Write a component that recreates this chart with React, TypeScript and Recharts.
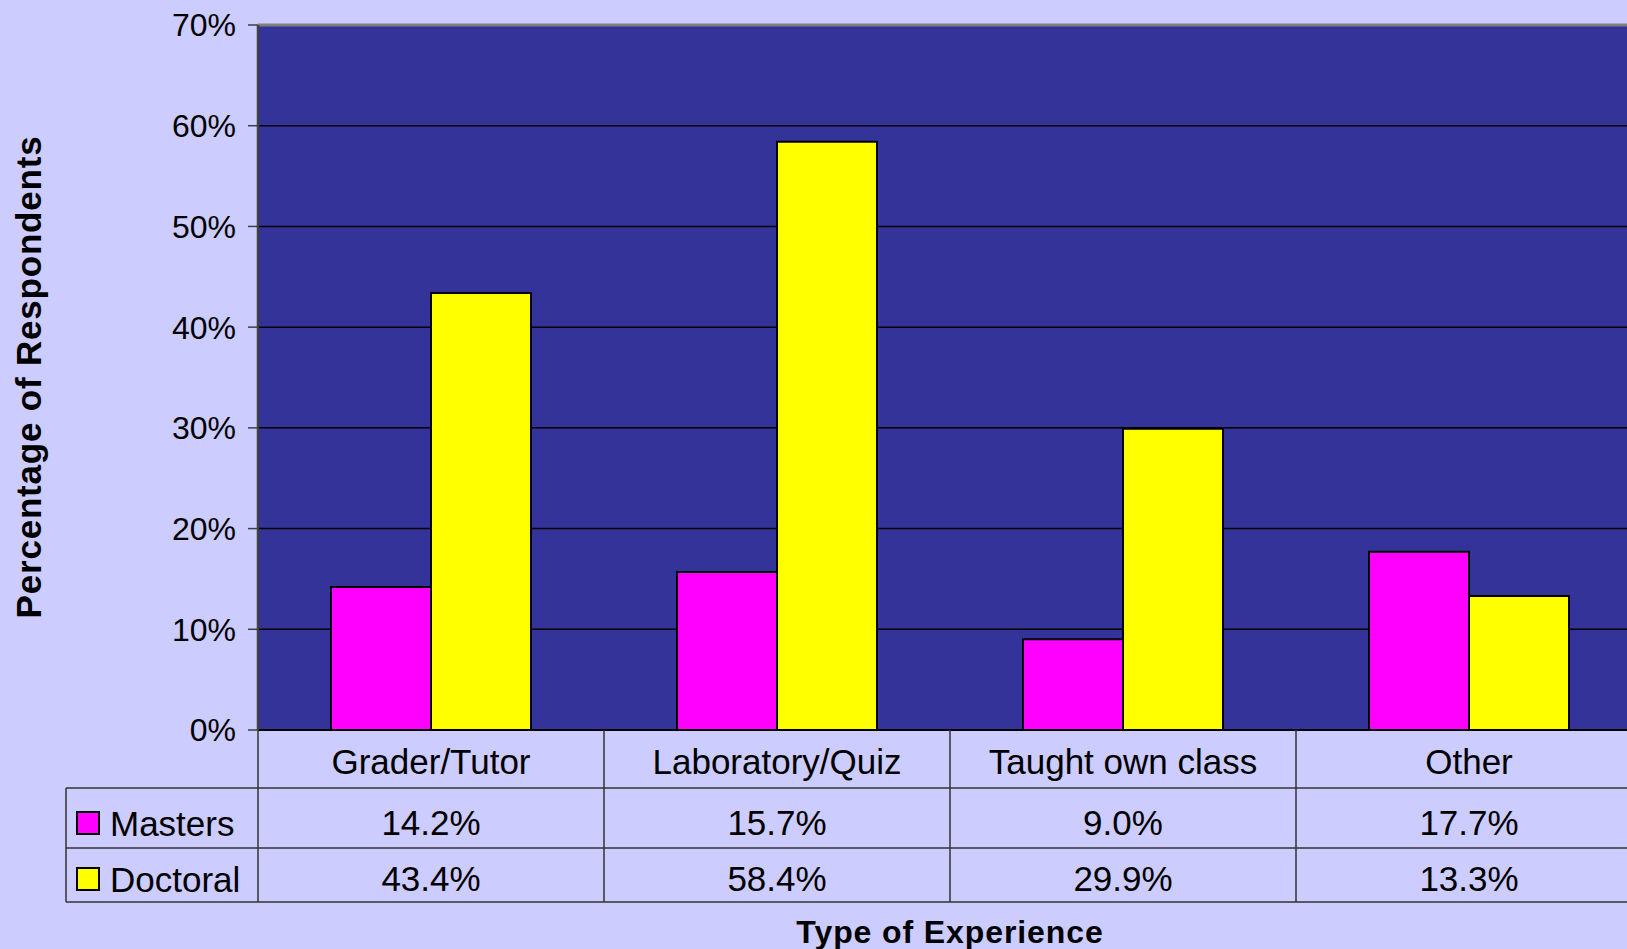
import { Bar, BarChart, CartesianGrid, ReferenceLine, XAxis, YAxis } from "recharts";

const categories = ["Grader/Tutor", "Laboratory/Quiz", "Taught own class", "Other"];
const masters = [14.2, 15.7, 9.0, 17.7];
const doctoral = [43.4, 58.4, 29.9, 13.3];
const yTicks = [0, 10, 20, 30, 40, 50, 60, 70];

const series = [
  { key: "masters", name: "Masters", color: "#FF00FF", values: masters },
  { key: "doctoral", name: "Doctoral", color: "#FFFF00", values: doctoral },
];

const data = categories.map((category, i) => ({ category, masters: masters[i], doctoral: doctoral[i] }));

const font = "'Liberation Sans', Arial, sans-serif";
const W = 1660;
const H = 949;
const plotLeft = 258;
const plotRight = 18;
const colW = (W - plotLeft - plotRight) / categories.length;
const line = "#333333";

function TableTick(props: any) {
  const { x, y, payload, index } = props;
  const i = payload?.index ?? index;
  const left = x - colW / 2;
  const right = x + colW / 2;
  return (
    <g fontFamily={font}>
      {i === 0 && (
        <g>
          <line x1={left} x2={left} y1={y} y2={y + 172} stroke={line} strokeWidth={1.5} />
          <line x1={66} x2={W} y1={y + 58} y2={y + 58} stroke={line} strokeWidth={1.5} />
          <line x1={66} x2={W} y1={y + 118} y2={y + 118} stroke={line} strokeWidth={1.5} />
          <line x1={66} x2={W} y1={y + 172} y2={y + 172} stroke={line} strokeWidth={1.5} />
          <line x1={66} x2={66} y1={y + 58} y2={y + 172} stroke={line} strokeWidth={1.5} />
          {series.map((s, k) => (
            <g key={s.key}>
              <rect x={77} y={y + 82 + k * 56} width={22} height={22} fill={s.color} stroke="#000" strokeWidth={2} />
              <text x={110} y={y + 93 + k * 56} fontSize={35} fill="#000" dominantBaseline="central">{s.name}</text>
            </g>
          ))}
        </g>
      )}
      <line x1={right} x2={right} y1={y} y2={y + 172} stroke={line} strokeWidth={1.5} />
      <text x={x} y={y + 31} fontSize={35} fill="#000" textAnchor="middle" dominantBaseline="central">{payload.value}</text>
      {series.map((s, k) => (
        <text key={s.key} x={x} y={y + 92 + k * 56} fontSize={35} fill="#000" textAnchor="middle" dominantBaseline="central">
          {`${s.values[i].toFixed(1)}%`}
        </text>
      ))}
    </g>
  );
}

export default function App() {
  return (
    <div style={{ position: "fixed", left: 0, top: 0, width: 1627, height: 949, overflow: "hidden", background: "#CCCCFF" }}>
      <BarChart width={W} height={H} data={data} barSize={100} barGap={0} margin={{ top: 25, right: plotRight, bottom: 0, left: 0 }}>
        <CartesianGrid vertical={false} stroke="#000" strokeWidth={1.5} fill="#333399" fillOpacity={1} />
        <ReferenceLine y={70} stroke="#808080" strokeWidth={3} />
        <XAxis
          dataKey="category"
          axisLine={{ stroke: "#000", strokeWidth: 2 }}
          tickLine={false}
          tickSize={0}
          tickMargin={0}
          interval={0}
          tick={<TableTick />}
          height={219}
          label={{
            content: () => (
              <text x={950} y={932} fontSize={32} fontWeight="bold" fontFamily={font} fill="#000" textAnchor="middle" dominantBaseline="central" letterSpacing={0.9}>
                Type of Experience
              </text>
            ),
          }}
        />
        <YAxis
          domain={[0, 70]}
          ticks={yTicks}
          width={plotLeft}
          tickFormatter={(v) => `${v}%`}
          tick={{ fill: "#000", fontSize: 32, fontFamily: font }}
          tickSize={10}
          tickMargin={12}
          tickLine={{ stroke: "#404040", strokeWidth: 1.5 }}
          axisLine={{ stroke: "#404040", strokeWidth: 2.5 }}
          label={{
            content: () => (
              <text x={28} y={377} fontSize={35} fontWeight="bold" fontFamily={font} fill="#000" textAnchor="middle" dominantBaseline="central" letterSpacing={0.8} transform="rotate(-90 28 377)">
                Percentage of Respondents
              </text>
            ),
          }}
        />
        {series.map((s) => (
          <Bar key={s.key} dataKey={s.key} name={s.name} fill={s.color} stroke="#000" strokeWidth={2} isAnimationActive={false} />
        ))}
      </BarChart>
    </div>
  );
}
